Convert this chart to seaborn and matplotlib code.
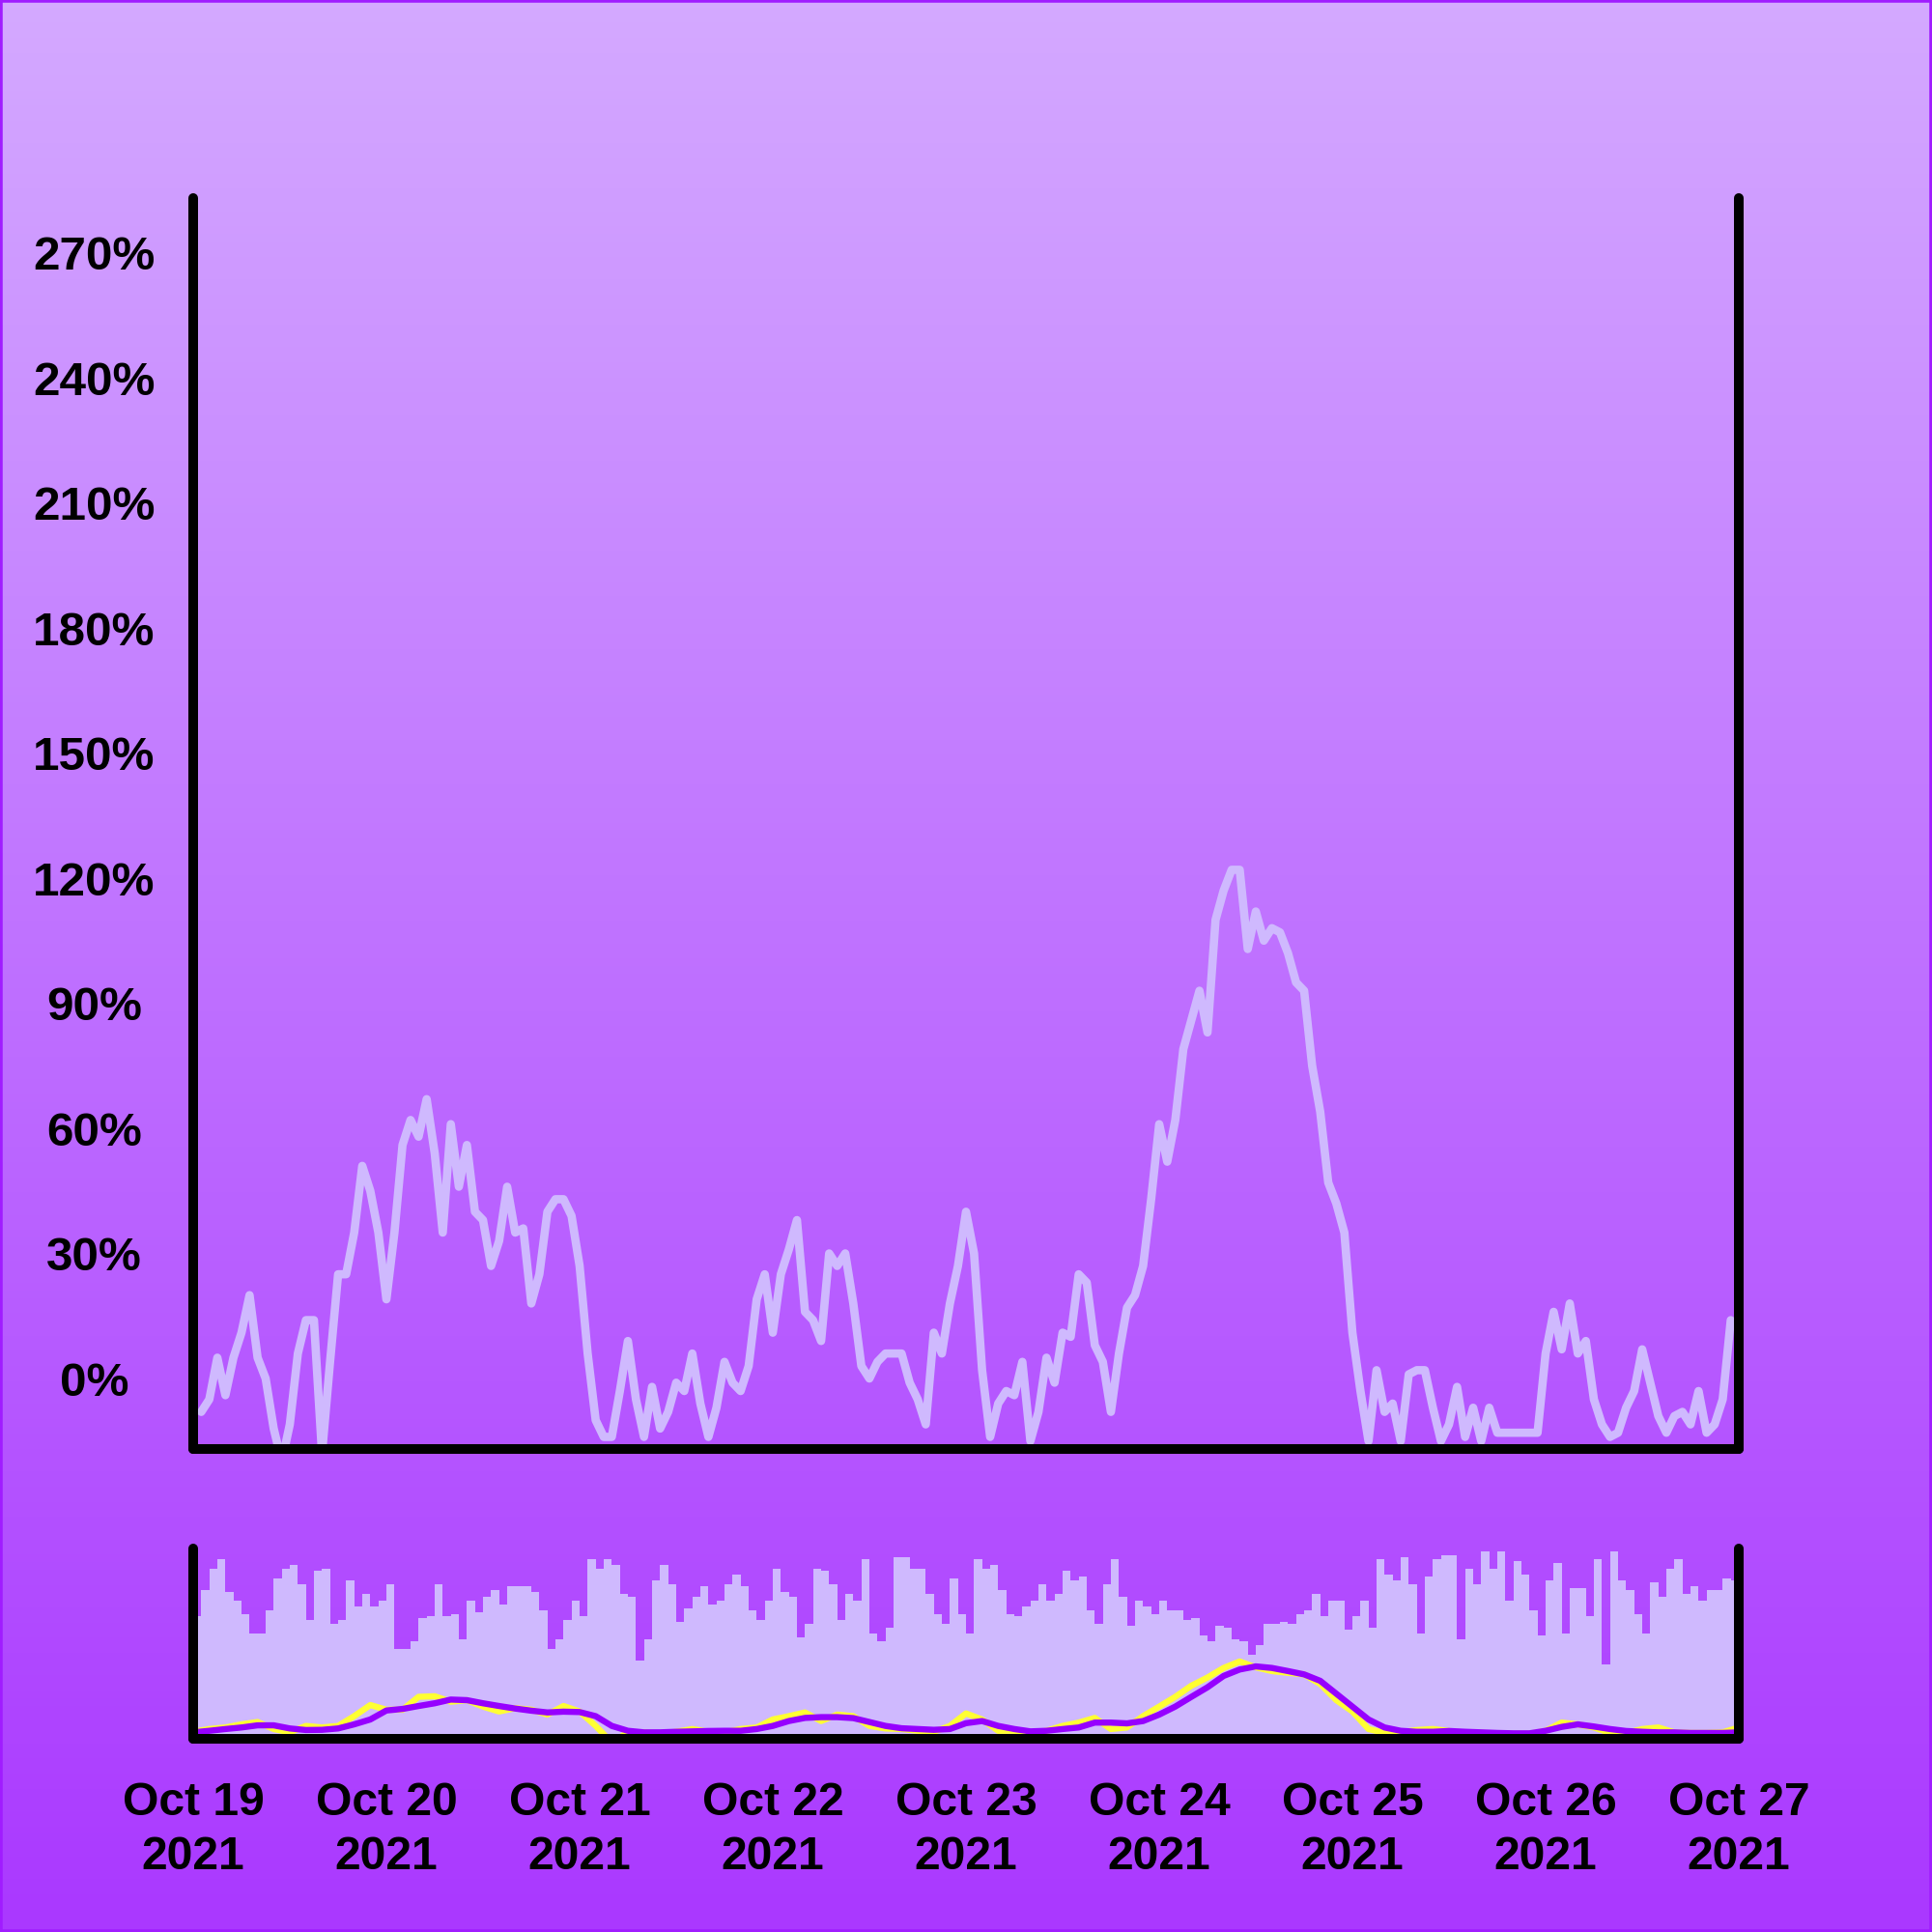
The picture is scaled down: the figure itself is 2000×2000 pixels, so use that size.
import numpy as np
import pandas as pd
import matplotlib
matplotlib.use("Agg")
import matplotlib.pyplot as plt
from matplotlib.colors import LinearSegmentedColormap
from matplotlib.patches import Rectangle
import seaborn as sns

sns.set_style("white")
plt.rcParams["font.family"] = ["Liberation Sans", "DejaVu Sans"]
plt.rcParams["font.weight"] = "bold"
plt.rcParams["text.color"] = "black"

# ── data ──────────────────────────────────────────────────────
START = pd.Timestamp("2021-10-19 00:00")
END = pd.Timestamp("2021-10-27 00:00")

# top panel: % change, hourly (hours after Oct 19 00:00)
line_hours = list(range(1, 192))
line_pct = [
    -8, -5, 5, -4, 5, 11, 20, 5, 0, -12, -20, -11, 6, 14, 14, -18, 4, 25, 25, 35,
    51, 45, 35, 19, 35, 56, 62, 58, 67, 54, 35, 61, 46, 56, 40, 38, 27, 33, 46, 35,
    36, 18, 25, 40, 43, 43, 39, 27, 6, -10, -14, -14, -3, 9, -5, -14, -2, -12, -8, -1,
    -3, 6, -6, -14, -7, 4, -1, -3, 3, 19, 25, 11, 25, 31, 38, 16, 14, 9, 30, 27,
    30, 18, 3, 0, 4, 6, 6, 6, -1, -5, -11, 11, 6, 18, 27, 40, 30, 2, -14, -6,
    -3, -4, 4, -15, -8, 5, -1, 11, 10, 25, 23, 8, 4, -8, 6, 17, 20, 27, 43, 61,
    52, 62, 79, 86, 93, 83, 110, 117, 122, 122, 103, 112, 105, 108, 107, 102, 95, 93, 75, 64,
    47, 42, 35, 11, -3, -15, 2, -8, -6, -15, 1, 2, 2, -7, -15, -11, -2, -14, -7, -15,
    -7, -13, -13, -13, -13, -13, -13, 6, 16, 7, 18, 6, 9, -5, -11, -14, -13, -7, -3, 7,
    -1, -9, -13, -9, -8, -11, -3, -13, -11, -5, 14,
]

# bottom panel: hourly bars (share of panel height)
bar_hours = [h + 0.5 for h in range(192)]
bar_vals = [
    63, 76, 87, 92, 75, 71, 64, 54, 54, 66, 82, 87, 89, 79, 61, 86, 87, 59, 61, 81,
    68, 74, 68, 71, 79, 46, 46, 50, 62, 63, 79, 63, 64, 51, 71, 65, 73, 76, 69, 78,
    78, 78, 75, 66, 46, 51, 61, 71, 63, 92, 87, 92, 89, 74, 73, 40, 51, 81, 89, 79,
    60, 67, 73, 78, 69, 71, 79, 84, 78, 66, 61, 71, 87, 75, 73, 52, 59, 87, 86, 79,
    61, 74, 71, 92, 54, 50, 57, 93, 93, 87, 87, 74, 64, 59, 82, 64,
    54, 92, 87, 89, 76, 64, 63, 68, 71, 79, 71, 74, 86, 81, 83, 66, 59, 79, 92, 73,
    58, 71, 68, 64, 71, 66, 66, 61, 62, 53, 50, 58, 57, 51, 50, 43, 48, 59, 59, 60,
    59, 64, 66, 74, 63, 71, 71, 56, 63, 71, 57, 92, 84, 81, 93, 79, 54, 83, 92, 94,
    94, 51, 87, 79, 96, 87, 96, 71, 91, 84, 66, 53, 81, 90, 54, 77, 77, 63, 92, 38,
    96, 81, 76, 64, 54, 80, 73, 87, 92, 74, 78, 71, 76, 76, 82, 81,
]

# bottom panel: smoothed lines, every 2 hours
ma_hours = list(range(0, 193, 2))
yellow_vals = [
    3.6, 5.0, 5.8, 7.4, 8.6, 5.0, 3.3, 6.6, 5.8, 6.6, 11.6, 17.3, 14.9, 14.9, 21.5, 21.8,
    19.0, 19.8, 16.5, 14.0, 15.7, 14.9, 12.4, 16.8, 14.0, 6.6, -2.0, 3.3, 3.3, 2.5, 3.6, 5.0,
    3.6, 3.3, 5.0, 5.8, 9.9, 11.6, 13.5, 9.1, 12.4, 11.6, 6.6, 5.3, 5.0, 4.1, 3.6, 6.6,
    13.0, 9.9, 4.1, 4.1, 3.0, 4.1, 6.6, 8.3, 10.7, 5.0, 5.8, 11.6, 16.5, 21.5, 27.2, 31.4,
    36.3, 39.6, 36.6, 34.7, 33.8, 33.0, 28.1, 19.8, 14.0, 5.0, 3.0, 3.3, 4.5, 5.0, 4.0, 3.0,
    3.0, 2.5, 2.5, 2.5, 4.1, 8.3, 7.4, 5.8, 3.0, 3.0, 5.0, 5.8, 3.3, 3.0, 3.0, 3.3, 5.8,
]
purple_vals = [
    3.3, 4.1, 5.0, 5.8, 6.9, 6.9, 5.3, 4.5, 4.6, 5.3, 7.4, 9.9, 14.5, 15.3, 16.8, 18.2,
    20.1, 19.8, 18.2, 16.8, 15.5, 14.4, 13.5, 13.9, 13.7, 11.6, 6.6, 4.1, 3.3, 3.3, 3.6, 3.8,
    4.0, 4.1, 4.1, 5.0, 6.6, 9.1, 10.7, 11.1, 11.1, 10.6, 8.6, 6.6, 5.4, 5.0, 4.6, 5.0,
    8.0, 9.1, 6.6, 5.0, 3.8, 4.1, 5.0, 5.8, 8.3, 8.3, 7.9, 9.1, 12.4, 16.5, 21.5, 26.4,
    32.2, 35.5, 37.1, 36.3, 34.7, 33.0, 29.7, 23.1, 16.5, 9.9, 5.8, 4.1, 3.6, 3.6, 4.0, 3.6,
    3.3, 3.0, 2.8, 2.8, 4.1, 6.1, 7.4, 6.3, 5.0, 4.0, 3.6, 3.3, 3.3, 3.0, 3.0, 3.0, 3.3,
]

y_ticks = [0, 30, 60, 90, 120, 150, 180, 210, 240, 270]
y_labels = ["0%", "30%", "60%", "90%", "120%", "150%", "180%", "210%", "240%", "270%"]
day_offsets = list(range(9))
x_labels = ["Oct 19\n2021", "Oct 20\n2021", "Oct 21\n2021", "Oct 22\n2021", "Oct 23\n2021",
            "Oct 24\n2021", "Oct 25\n2021", "Oct 26\n2021", "Oct 27\n2021"]

# ── colours ───────────────────────────────────────────────────
LAV = "#cfb9fe"
YELLOW = "#ffff33"
PURPLE = "#9600ff"
BG_TOP, BG_BOT = "#d4a9ff", "#aa38ff"

line_t = START + pd.to_timedelta(line_hours, unit="h")
bar_t = START + pd.to_timedelta(bar_hours, unit="h")
ma_t = START + pd.to_timedelta(ma_hours, unit="h")
day_t = START + pd.to_timedelta(day_offsets, unit="D")

fig = plt.figure(figsize=(10, 10), dpi=200)

# gradient background
bg = fig.add_axes([0, 0, 1, 1], zorder=-10)
grad = np.linspace(0, 1, 512).reshape(-1, 1)
bg.imshow(grad, aspect="auto", extent=[0, 1, 0, 1],
          cmap=LinearSegmentedColormap.from_list("bg", [BG_TOP, BG_BOT]))
bg.axis("off")
fig.patches.append(Rectangle((0, 0), 1, 1, transform=fig.transFigure, fill=False,
                             edgecolor="#a01cff", linewidth=2))


def style_spines(ax):
    ax.spines["top"].set_visible(False)
    for side in ["left", "right", "bottom"]:
        ax.spines[side].set_linewidth(3.6)
        ax.spines[side].set_color("black")
        ax.spines[side].set_capstyle("round")


# ── top panel ─────────────────────────────────────────────────
ax = fig.add_axes([0.1, 0.25, 0.8, 0.6475])
ax.set_facecolor("none")
sns.lineplot(x=line_t, y=line_pct, ax=ax, color=LAV, linewidth=3.1)
ax.set_xlim(START, END)
ax.set_ylim(-16.9, 283.1)
ax.set_yticks(y_ticks)
ax.set_yticklabels(y_labels)
ax.tick_params(axis="y", length=8, width=1.55, pad=29, labelsize=17.8,
               color="black", labelcolor="black")
for lbl in ax.get_yticklabels():
    lbl.set_ha("center")
    lbl.set_fontweight("bold")
ax.tick_params(axis="x", bottom=False, labelbottom=False)
ax.set_xlabel("")
ax.set_ylabel("")
style_spines(ax)

# ── bottom panel ──────────────────────────────────────────────
ax2 = fig.add_axes([0.1, 0.1, 0.8, 0.0985])
ax2.set_facecolor("none")
ax2.bar(bar_t, bar_vals, width=1 / 24, color=LAV, linewidth=0)
sns.lineplot(x=ma_t, y=yellow_vals, ax=ax2, color=YELLOW, linewidth=2.3)
sns.lineplot(x=ma_t, y=purple_vals, ax=ax2, color=PURPLE, linewidth=2.3)
ax2.set_xlim(START, END)
ax2.set_ylim(0, 97.5)
ax2.set_yticks([])
ax2.set_xticks(day_t)
ax2.set_xticklabels(x_labels, linespacing=1.3, fontweight="bold")
ax2.tick_params(axis="x", length=5, width=1.55, pad=11, labelsize=17.3,
                color="black", labelcolor="black")
ax2.set_xlabel("")
ax2.set_ylabel("")
style_spines(ax2)

plt.savefig("out.png", dpi=200)
